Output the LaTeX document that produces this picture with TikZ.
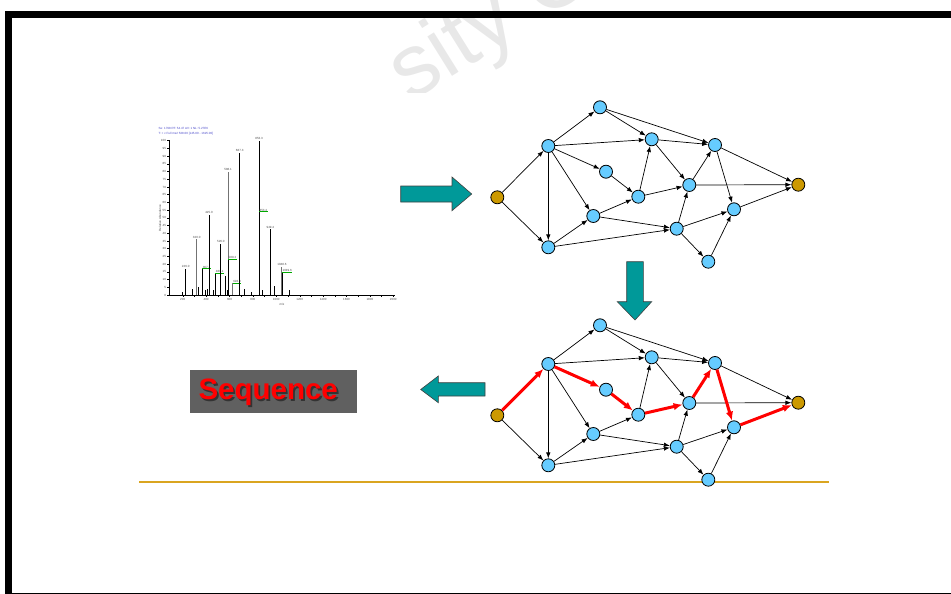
\documentclass[tikz,border=0pt]{standalone}
\usepackage{fontspec}
\setmainfont{Liberation Sans}
\usetikzlibrary{arrows.meta}
\definecolor{nodeblue}{RGB}{102,204,255}
\definecolor{endgold}{RGB}{204,153,0}
\definecolor{arrowteal}{RGB}{0,153,153}
\definecolor{rulegold}{RGB}{218,165,32}
\definecolor{boxgrey}{RGB}{96,96,96}
\definecolor{specblue}{RGB}{70,70,200}
\definecolor{specgreen}{RGB}{0,170,0}
\begin{document}
\begin{tikzpicture}[x=1pt, y=-1pt,
  peptide/.style={circle, draw=black, fill=nodeblue, line width=0.8pt, minimum size=13pt, inner sep=0pt},
  terminal/.style={peptide, fill=endgold},
  edge/.style={-{Latex[length=6pt,width=4.5pt]}, line width=0.7pt},
  path edge/.style={-{Latex[length=9pt,width=7.5pt]}, red, line width=3pt},
  bigarrow/.style={draw=black!75, fill=arrowteal, line width=0.6pt},
  tiny/.style={font=\fontsize{3}{3.5}\selectfont, inner sep=0.3pt, text=black!70}]
  \useasboundingbox (0,0) rectangle (951,594);
  \clip (0,0) rectangle (951,594);

  % watermark
  \begin{scope}
    \clip (380,0) rectangle (620,93);
    \node[text=black!9, font=\fontsize{88}{88}\selectfont, rotate=32, anchor=base west, inner sep=0pt] (mark) at (410,103) {sity C};
  \end{scope}

  % slide frame
  \draw[line width=7pt] (8.5,14.5) rectangle (1000,596);

  % spectrum
  \node[tiny, text=specblue, anchor=west] (head1) at (158,128.3) {Se: 1798 RT: 54.47 AV: 1 NL: 5.27E6};
  \node[tiny, text=specblue, anchor=west] (head2) at (158,133.3) {T: + c Full ms2 538.00 [145.00 - 1625.00]};
  \draw[line width=0.8pt] (169,140.7) -- (169,295) -- (395,295);
  \foreach \r in {0,5,...,100} {
    \draw[line width=0.5pt] (167.3,{295-\r*1.543}) -- (170.3,{295-\r*1.543});
    \node[tiny, anchor=east] (yl\r) at (166.5,{295-\r*1.543}) {\r};
  }
  \foreach \m in {200,300,...,2000}
    \draw[line width=0.4pt] ({182.7+(\m-200)*0.117},295) -- ({182.7+(\m-200)*0.117},296.8);
  \foreach \m in {200,400,...,2000}
    \node[tiny, anchor=north] (xl\m) at ({182.7+(\m-200)*0.117},297.5) {\m};
  \node[tiny] (xname) at (282,304.5) {m/z};
  \node[tiny, rotate=90] (yname) at (160,218) {Relative Abundance};
  \foreach \m/\r in {200/2,285/4,320/10,335/5,391/3,410/4,467/3,478/10,567/12,581/3,627/4,684/2,724/4,790/2,884/3,946/2,980/6,1111/3}
    \draw[line width=0.9pt] ({182.7+(\m-200)*0.117},295) -- ({182.7+(\m-200)*0.117},{295-\r*1.543});
  \foreach \m/\r/\c/\g [count=\q] in {226.0/17/black/0, 320.0/36/black!55/0, 367.1/17/black/1, 425.0/52/black/0,
      480.1/14/black/1, 526.0/33/black/0, 588.1/80/black!55/0, 589.2/23/black/1, 628.0/7.5/black!55/1,
      687.3/92/black/0, 853.3/100/black/0, 853.4/54/black/1, 949.4/42.5/black/0, 1048.6/18/black!55/0, 1049.6/15/black/1} {
    \draw[line width=1pt, \c] ({182.7+(\m-200)*0.117},295) -- ({182.7+(\m-200)*0.117},{295-\r*1.543});
    \ifnum\g=1
      \node[tiny, anchor=south west] (pk\q) at ({182.7+(\m-200)*0.117},{295-\r*1.543}) {\m};
      \draw[specgreen, line width=0.6pt] (pk\q.south west) -- (pk\q.south east);
    \else
      \node[tiny, anchor=south] (pk\q) at ({182.7+(\m-200)*0.117},{294.2-\r*1.543}) {\m};
    \fi
  }

  % block arrows
  \draw[bigarrow] (400.7,186) -- (452,186) -- (452,177) -- (471.7,194) -- (452,210.7) -- (452,202) -- (400.7,202) -- cycle;
  \draw[bigarrow] (626.7,261.7) -- (643.3,261.7) -- (643.3,301.7) -- (651.7,301.7) -- (635,320) -- (617.3,301.7) -- (626.7,301.7) -- cycle;
  \draw[bigarrow] (485,382.7) -- (438.3,382.7) -- (438.3,376) -- (420.7,389.5) -- (438.3,402.7) -- (438.3,396) -- (485,396) -- cycle;

  % result box
  \node[fill=boxgrey, minimum width=166.7pt, minimum height=43.3pt, inner sep=0pt] (seqbox) at (273.3,391.7) {};
  \node[text=black!80, font=\fontsize{29.5}{30}\selectfont\bfseries] (seqshadow) at (270,394.5) {Sequence};
  \node[text=red, font=\fontsize{29.5}{30}\selectfont\bfseries] (seq) at (268.2,392.4) {Sequence};

  % rule
  \draw[rulegold, line width=1.8pt] (139,482) -- (829,482);

  % spectrum graphs
  \foreach \k/\dy in {1/0, 2/218} {
    \foreach \n/\x/\y in {a/548.3/146, b/600/107.3, c/606/171.7, d/651.7/139.3, e/715/145, f/638.3/196.7,
        g/689.3/185, h/593.3/216, i/548.3/247.3, j/676.7/228.7, k/734/209.3, l/708.3/261.7}
      \node[peptide] (\n\k) at ({\x},{\y+\dy}) {};
    \node[terminal] (s\k) at (497.3,{197.3+\dy}) {};
    \node[terminal] (t\k) at (798.3,{184.7+\dy}) {};
  }
  \foreach \u/\v in {s/a,s/i,a/b,a/d,a/c,a/h,a/i,b/d,b/e,d/e,d/g,c/f,f/d,f/g,g/e,g/t,e/t,e/k,h/f,h/j,i/h,i/j,j/g,j/k,j/l,l/k,k/t}
    \draw[edge] (\u1) -- (\v1);
  \foreach \u/\v in {s/i,a/b,a/d,a/h,a/i,b/d,b/e,d/e,d/g,f/d,g/t,e/t,h/f,h/j,i/h,i/j,j/g,j/k,j/l,l/k}
    \draw[edge] (\u2) -- (\v2);
  \foreach \u/\v in {s/a,a/c,c/f,f/g,g/e,e/k,k/t}
    \draw[path edge] (\u2) -- (\v2);
\end{tikzpicture}
\end{document}
